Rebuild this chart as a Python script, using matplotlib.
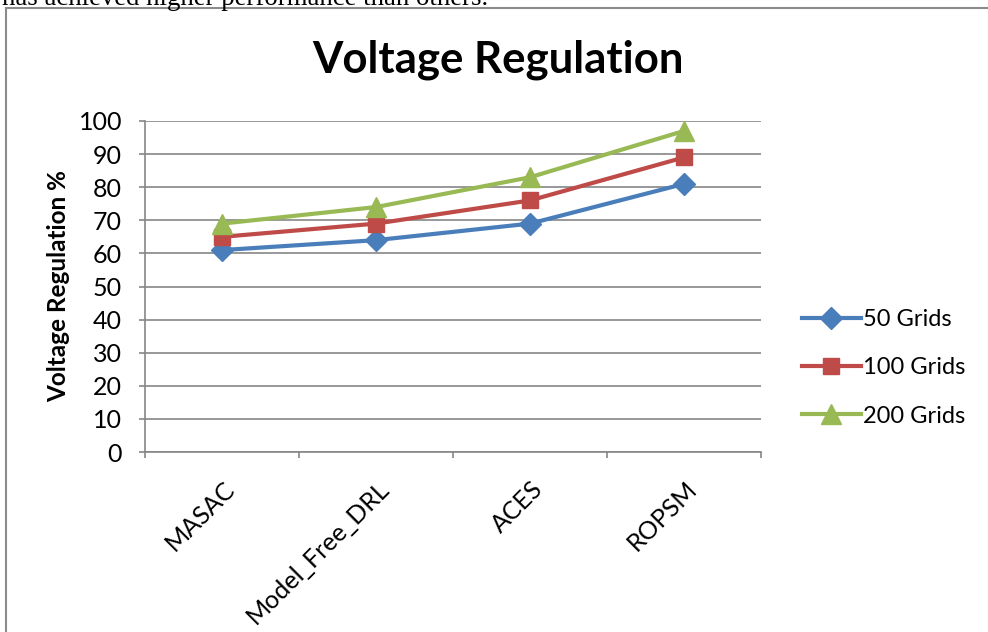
import matplotlib.pyplot as plt
import numpy as np
from matplotlib.lines import Line2D
from matplotlib.transforms import ScaledTranslation

methods = ["MASAC", "Model_Free_DRL", "ACES", "ROPSM"]
grids_50 = [61, 64, 69, 81]
grids_100 = [65, 69, 76, 89]
grids_200 = [69, 74, 83, 97]
series_labels = ["50 Grids", "100 Grids", "200 Grids"]

plt.rcParams["font.family"] = ["Lato", "DejaVu Sans"]

fig = plt.figure(figsize=(9.88, 6.32), dpi=100)
ax = fig.add_axes([145 / 988, 1 - 452 / 632, (761 - 145) / 988, (452 - 121) / 632])

x = np.arange(len(methods))
ax.plot(x, grids_50, color="#4A7EBB", lw=3, marker="D", ms=11, label=series_labels[0])
ax.plot(x, grids_100, color="#BE4B48", lw=3, marker="s", ms=12, label=series_labels[1])
ax.plot(x, grids_200, color="#98B954", lw=3, marker="^", ms=14, label=series_labels[2])

ax.set_xlim(-0.5, len(methods) - 0.5)
ax.set_ylim(0, 100)
ax.set_yticks(np.arange(0, 101, 10))
ax.yaxis.grid(True, color="#868686", lw=1.2)
ax.set_axisbelow(True)
for side in ["top", "right"]:
    ax.spines[side].set_visible(False)
for side in ["left", "bottom"]:
    ax.spines[side].set_color("#868686")
    ax.spines[side].set_linewidth(1.2)

ax.tick_params(axis="y", length=4.5, width=1.2, color="#868686", pad=12, labelsize=18)

# tick marks sit between categories, labels at the category centres
ax.set_xticks(np.arange(-0.5, len(methods), 1.0), minor=True)
ax.tick_params(axis="x", which="minor", length=4.5, width=1.2, color="#868686", direction="out")
ax.set_xticks(x)
ax.set_xticklabels(methods, rotation=45, ha="right", va="center", rotation_mode="anchor", fontsize=18)
ax.tick_params(axis="x", which="major", length=0, pad=24)
for lab in ax.get_xticklabels():
    lab.set_transform(lab.get_transform() + ScaledTranslation(9 / 100, 0, fig.dpi_scale_trans))

ax.set_ylabel("Voltage Regulation %", fontsize=17.5, fontweight="bold", labelpad=6)
fig.text(498 / 988, 1 - 60 / 632, "Voltage Regulation", fontsize=31.5, fontweight="bold",
         ha="center", va="center")

ax.legend(loc="center left", bbox_to_anchor=(790 / 988, 1 - 368 / 632),
          bbox_transform=fig.transFigure, frameon=False, fontsize=17,
          handlelength=2.5, labelspacing=1.15, handletextpad=0.1, borderpad=0)

# surrounding chart frame and the line of body text above it
fig.add_artist(Line2D([6 / 988, 6 / 988], [0, 1 - 8 / 632], transform=fig.transFigure,
                      color="#8C8C8C", lw=1.5))
fig.add_artist(Line2D([6 / 988, 1], [1 - 8 / 632, 1 - 8 / 632], transform=fig.transFigure,
                      color="#8C8C8C", lw=1.5))
fig.text(2 / 988, 1 - 5 / 632, "has achieved higher performance than others.",
         family="Liberation Serif", fontsize=19.3, va="baseline", ha="left")

fig.savefig("out.png", dpi=100)
